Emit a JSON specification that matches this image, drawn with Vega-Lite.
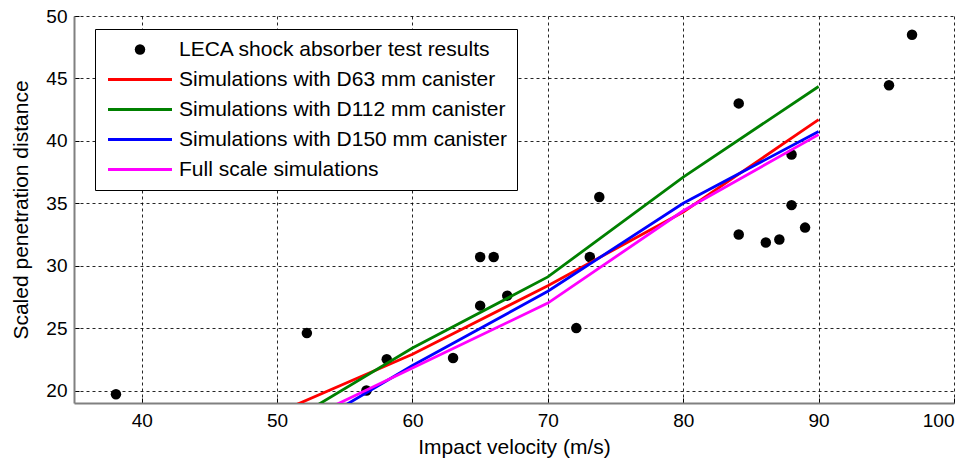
{
  "$schema": "https://vega.github.io/schema/vega-lite/v6.json",
  "width": 880,
  "height": 387,
  "autosize": {"type": "none"},
  "padding": {"left": 74, "top": 16, "right": 19, "bottom": 58},
  "background": "white",
  "config": {
    "view": {"stroke": null},
    "font": "Liberation Sans",
    "axis": {
      "labelFont": "Liberation Sans",
      "titleFont": "Liberation Sans",
      "labelFontSize": 19,
      "titleFontSize": 21,
      "titleFontWeight": "normal",
      "labelColor": "black",
      "titleColor": "black",
      "domainColor": "#808080",
      "domainWidth": 2,
      "ticks": true,
      "tickSize": -5,
      "tickColor": "black",
      "tickWidth": 1,
      "grid": true,
      "gridColor": "black",
      "gridDash": [3, 3],
      "gridWidth": 1,
      "gridOpacity": 0.85
    }
  },
  "data": {
    "values": [
      {"series": "LECA shock absorber test results", "x": 38.1, "y": 19.7},
      {"series": "LECA shock absorber test results", "x": 52.2, "y": 24.6},
      {"series": "LECA shock absorber test results", "x": 56.6, "y": 20.0},
      {"series": "LECA shock absorber test results", "x": 58.1, "y": 22.5},
      {"series": "LECA shock absorber test results", "x": 63.0, "y": 22.6},
      {"series": "LECA shock absorber test results", "x": 65.0, "y": 30.7},
      {"series": "LECA shock absorber test results", "x": 66.0, "y": 30.7},
      {"series": "LECA shock absorber test results", "x": 65.0, "y": 26.8},
      {"series": "LECA shock absorber test results", "x": 67.0, "y": 27.6},
      {"series": "LECA shock absorber test results", "x": 72.1, "y": 25.0},
      {"series": "LECA shock absorber test results", "x": 73.1, "y": 30.7},
      {"series": "LECA shock absorber test results", "x": 73.8, "y": 35.5},
      {"series": "LECA shock absorber test results", "x": 84.1, "y": 43.0},
      {"series": "LECA shock absorber test results", "x": 84.1, "y": 32.5},
      {"series": "LECA shock absorber test results", "x": 86.1, "y": 31.85},
      {"series": "LECA shock absorber test results", "x": 87.1, "y": 32.1},
      {"series": "LECA shock absorber test results", "x": 88.0, "y": 38.9},
      {"series": "LECA shock absorber test results", "x": 88.0, "y": 34.85},
      {"series": "LECA shock absorber test results", "x": 89.0, "y": 33.05},
      {"series": "LECA shock absorber test results", "x": 95.2, "y": 44.45},
      {"series": "LECA shock absorber test results", "x": 96.9, "y": 48.5},
      {"series": "Simulations with D63 mm canister", "x": 50, "y": 18.2},
      {"series": "Simulations with D63 mm canister", "x": 60, "y": 22.9},
      {"series": "Simulations with D63 mm canister", "x": 70, "y": 28.4},
      {"series": "Simulations with D63 mm canister", "x": 80, "y": 34.3},
      {"series": "Simulations with D63 mm canister", "x": 90, "y": 41.7},
      {"series": "Simulations with D112 mm canister", "x": 50, "y": 16.9},
      {"series": "Simulations with D112 mm canister", "x": 60, "y": 23.4},
      {"series": "Simulations with D112 mm canister", "x": 70, "y": 29.1},
      {"series": "Simulations with D112 mm canister", "x": 80, "y": 37.1},
      {"series": "Simulations with D112 mm canister", "x": 90, "y": 44.35},
      {"series": "Simulations with D150 mm canister", "x": 50, "y": 15.6},
      {"series": "Simulations with D150 mm canister", "x": 60, "y": 22.0},
      {"series": "Simulations with D150 mm canister", "x": 70, "y": 27.95},
      {"series": "Simulations with D150 mm canister", "x": 80, "y": 35.0},
      {"series": "Simulations with D150 mm canister", "x": 90, "y": 40.75},
      {"series": "Full scale simulations", "x": 50, "y": 16.6},
      {"series": "Full scale simulations", "x": 60, "y": 21.8},
      {"series": "Full scale simulations", "x": 70, "y": 27.0},
      {"series": "Full scale simulations", "x": 80, "y": 34.4},
      {"series": "Full scale simulations", "x": 90, "y": 40.5}
    ]
  },
  "encoding": {
    "x": {
      "field": "x",
      "type": "quantitative",
      "scale": {"domain": [35, 100], "nice": false, "zero": false},
      "axis": {"values": [40, 50, 60, 70, 80, 90, 100], "title": "Impact velocity (m/s)", "labelPadding": 13, "titlePadding": 6}
    },
    "y": {
      "field": "y",
      "type": "quantitative",
      "scale": {"domain": [19, 50], "nice": false, "zero": false},
      "axis": {"values": [20, 25, 30, 35, 40, 45, 50], "title": "Scaled penetration distance", "labelPadding": 12, "titlePadding": 14}
    },
    "color": {
      "field": "series",
      "type": "nominal",
      "scale": {
        "domain": ["LECA shock absorber test results", "Simulations with D63 mm canister", "Simulations with D112 mm canister", "Simulations with D150 mm canister", "Full scale simulations"],
        "range": ["black", "#ff0000", "#008000", "#0000ff", "#ff00ff"]
      },
      "legend": {
        "orient": "none",
        "legendX": 21,
        "legendY": 13,
        "title": null,
        "padding": 10,
        "strokeColor": "black",
        "fillColor": "white",
        "labelFont": "Liberation Sans",
        "labelFontSize": 21,
        "labelColor": "black",
        "labelLimit": 600,
        "labelOffset": 53,
        "rowPadding": 8,
        "symbolType": "stroke",
        "symbolSize": 4096,
        "symbolStrokeWidth": 2.8,
        "encode": {
          "symbols": {
            "update": {
              "x": {"value": 35},
              "shape": {"signal": "datum.value === 'LECA shock absorber test results' ? 'circle' : 'stroke'"},
              "size": {"signal": "datum.value === 'LECA shock absorber test results' ? 110 : 4096"},
              "fill": {"signal": "datum.value === 'LECA shock absorber test results' ? 'black' : 'transparent'"},
              "stroke": {"signal": "scale('color', datum.value)"},
              "strokeWidth": {"signal": "datum.value === 'LECA shock absorber test results' ? 0 : 2.8"}
            }
          }
        }
      }
    }
  },
  "layer": [
    {
      "transform": [{"filter": "datum.series === 'LECA shock absorber test results'"}],
      "mark": {"type": "point", "filled": true, "size": 110, "opacity": 1, "clip": true}
    },
    {
      "transform": [{"filter": "datum.series !== 'LECA shock absorber test results'"}],
      "mark": {"type": "line", "strokeWidth": 2.8, "clip": true}
    }
  ]
}
